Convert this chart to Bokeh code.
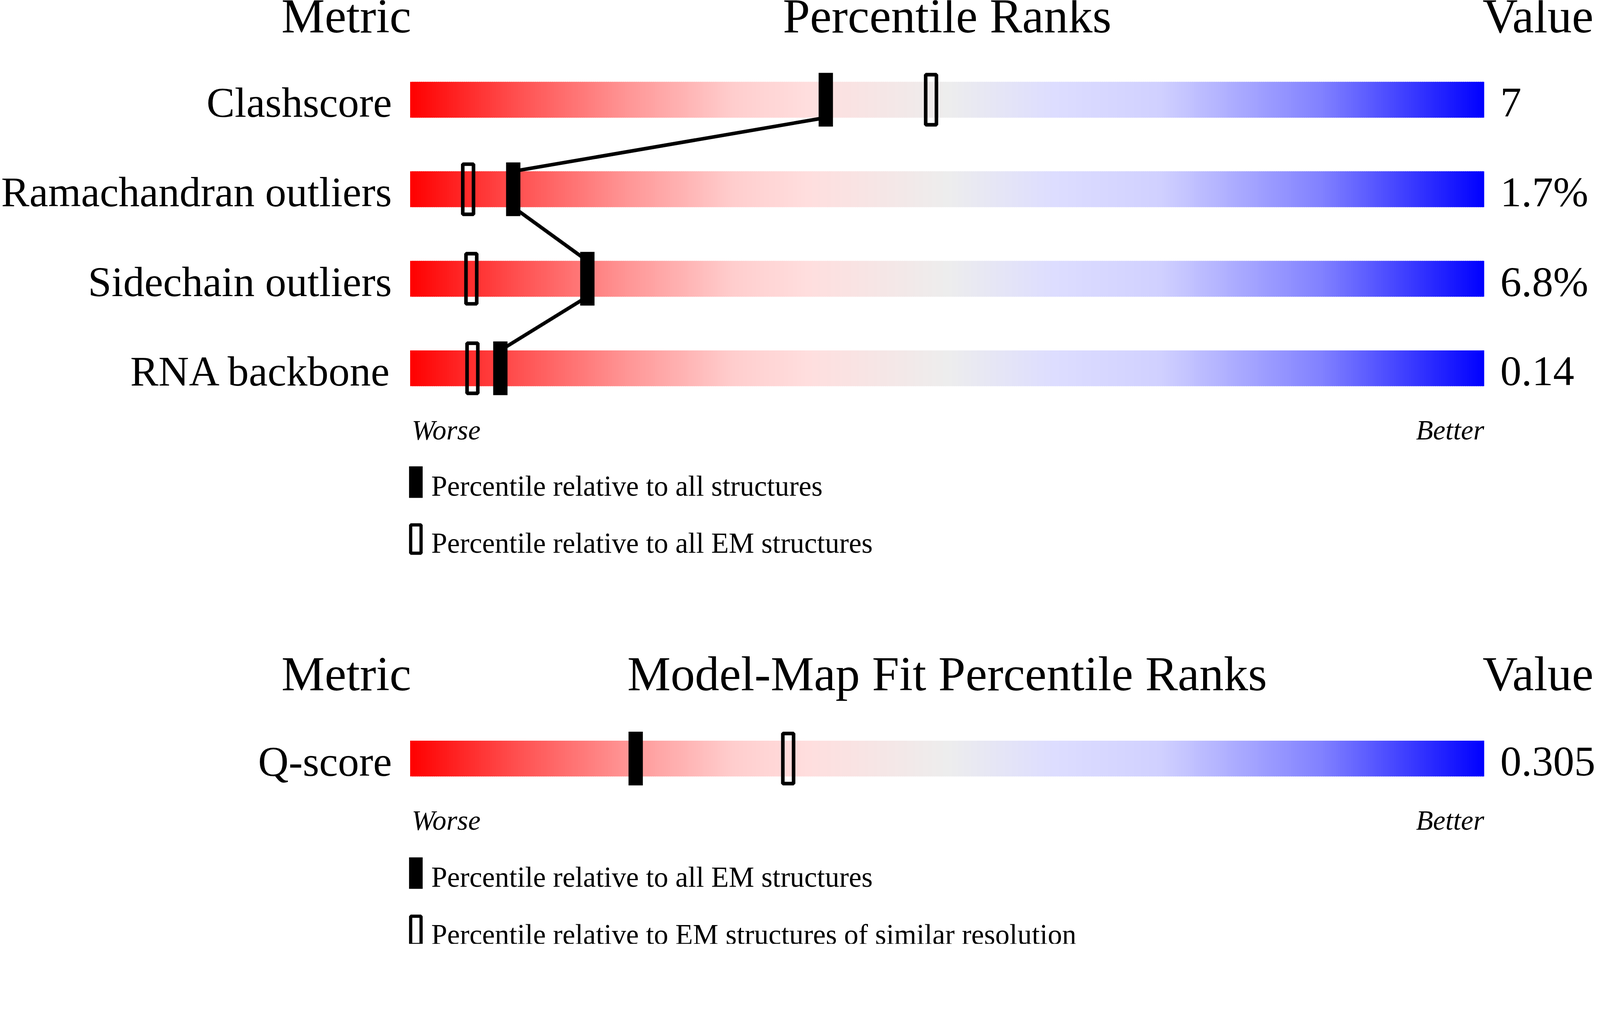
from bokeh.plotting import figure
from bokeh.models import Range1d
from bokeh.core.properties import value
from bokeh.embed import file_html
from bokeh.resources import INLINE

# ---------------- data ----------------
top_metrics = ["Clashscore", "Ramachandran outliers", "Sidechain outliers", "RNA backbone"]
top_values = ["7", "1.7%", "6.8%", "0.14"]
top_pct_all = [38.7, 9.6, 16.5, 8.4]        # percentile relative to all structures
top_pct_em = [48.5, 5.4, 5.7, 5.8]          # percentile relative to all EM structures

bottom_metrics = ["Q-score"]
bottom_values = ["0.305"]
bottom_pct_em = [21.0]                      # relative to all EM structures
bottom_pct_similar = [35.2]                 # relative to EM structures of similar resolution

top_legend = ["Percentile relative to all structures", "Percentile relative to all EM structures"]
bottom_legend = ["Percentile relative to all EM structures",
                 "Percentile relative to EM structures of similar resolution"]

# ---------------- layout (designed in reference pixels) ----------------
S = 1 / 1.091           # css px per reference px
W_REF, H_REF = 4469, 2636
W, H = round(W_REF * S), round(H_REF * S)
PXU = 30.0              # reference px per percentile unit
BAR_LEFT = 1153.0       # reference px of percentile 0
x0 = (8 - BAR_LEFT) / PXU
x1 = x0 + W_REF / PXU
BASE_SHIFT = 0.355      # em offset to place the alphabetic baseline

FONT = value("Liberation Serif")

p = figure(width=W, height=H, x_range=Range1d(x0, x1), y_range=Range1d(8 + H_REF, 8),
           output_backend="svg", toolbar_location=None,
           x_axis_type=None, y_axis_type=None, min_border=0)
p.outline_line_color = None
p.background_fill_color = "white"
p.border_fill_color = "white"

stops = [(0.00, (255, 0, 0)), (0.10, (255, 80, 80)), (0.20, (255, 148, 148)),
         (0.30, (255, 205, 205)), (0.37, (255, 222, 222)), (0.50, (237, 237, 237)),
         (0.60, (221, 221, 255)), (0.70, (208, 208, 255)), (0.85, (128, 128, 255)),
         (1.00, (0, 0, 255))]


def grad(t):
    for (a, ca), (b, cb) in zip(stops[:-1], stops[1:]):
        if t <= b:
            f = (t - a) / (b - a)
            c = [round(ca[i] + (cb[i] - ca[i]) * f) for i in range(3)]
            return "#%02x%02x%02x" % tuple(c)
    return "#0000ff"


N = 500
slice_w = 100.0 / N


def draw_bars(centers):
    L, R, B, T, C = [], [], [], [], []
    for cy in centers:
        for k in range(N):
            l = k * slice_w
            L.append(l)
            R.append(min(100.0, l + slice_w * 1.6))
            B.append(cy + 50)
            T.append(cy - 50)
            C.append(grad((k + 0.5) / N))
    p.quad(left=L, right=R, bottom=B, top=T, fill_color=C, line_color=None)


def txt(x, y, t, size, align="left", style="normal"):
    ys = [v - BASE_SHIFT * size for v in y]
    p.text(x=x, y=ys, text=t, text_align=align, text_baseline="alphabetic",
           text_font=FONT, text_font_size=value("%.2fpx" % (size * S)),
           text_font_style=style, text_color="black")


def section(title_y, centers, metrics, values, pct_fill, pct_open, title, worse_y, legend, leg_y, link):
    txt([0.1], [title_y], ["Metric"], 136, "right")
    txt([50], [title_y], [title], 136, "center")
    txt([99.85], [title_y], ["Value"], 136, "left")
    draw_bars(centers)
    if link and len(centers) > 1:
        p.segment(x0=pct_fill[:-1], y0=[c + 50 for c in centers[:-1]],
                  x1=pct_fill[1:], y1=[c - 50 for c in centers[1:]],
                  line_color="black", line_width=10 * S)
    p.rect(x=pct_fill, y=centers, width=40 / PXU, height=150, fill_color="black", line_color=None)
    p.rect(x=pct_open, y=centers, width=30 / PXU, height=140, fill_color=None,
           line_color="black", line_width=10 * S)
    txt([-1.7] * len(metrics), [c + 50 for c in centers], metrics, 118, "right")
    txt([101.5] * len(values), [c + 50 for c in centers], values, 118, "left")
    txt([0.15], [worse_y], ["Worse"], 78, "left", "italic")
    txt([100], [worse_y], ["Better"], 78, "right", "italic")
    # legend
    lx = (1169 - BAR_LEFT) / PXU
    p.rect(x=[lx], y=[leg_y[0] - 40], width=38 / PXU, height=88, fill_color="black", line_color=None)
    p.rect(x=[lx], y=[leg_y[1] - 40], width=29 / PXU, height=79, fill_color=None,
           line_color="black", line_width=9 * S)
    txt([(1212 - BAR_LEFT) / PXU] * 2, leg_y, legend, 80, "left")


section(101, [286, 536, 786, 1036], top_metrics, top_values, top_pct_all, top_pct_em,
        "Percentile Ranks", 1236, top_legend, [1394, 1553], True)
section(1938, [2126], bottom_metrics, bottom_values, bottom_pct_em, bottom_pct_similar,
        "Model-Map Fit Percentile Ranks", 2326, bottom_legend, [2486, 2646], False)

open("out.html", "w").write(file_html(p, INLINE))
